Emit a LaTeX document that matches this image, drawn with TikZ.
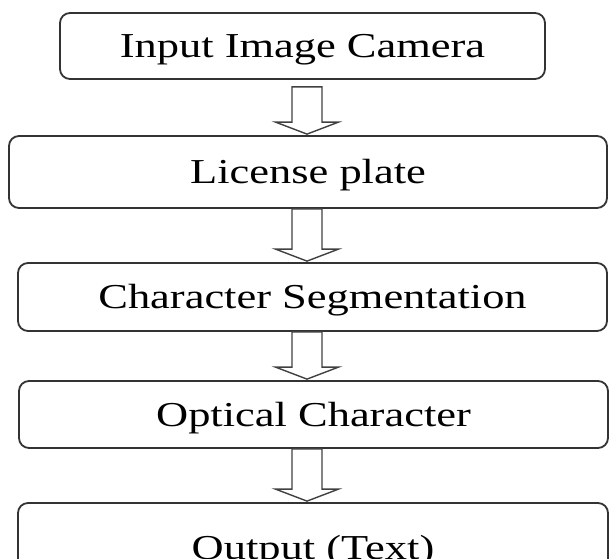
\documentclass[tikz,border=0pt]{standalone}
\usepackage{fontspec}
\setmainfont{Liberation Serif}
\usepackage{graphicx}
\usetikzlibrary{positioning,calc}

\tikzset{
  stage/.style={draw=black!80, line width=1.8pt, rounded corners=10pt, inner sep=0pt,
    text height=23pt, text depth=0pt, font=\fontsize{35}{40}\selectfont},
  hollow/.style={draw=black!75, line width=1.4pt},
}
\newcommand{\wide}[1]{\scalebox{1.27}[1]{#1}}
% hollow block arrow from the bottom of #2 to the top of #3
\newcommand{\flowarrow}[3][0]{%
  \draw[hollow] ($(#2.south -| axis)+(-15,#1)$) -- ($(#3.north -| axis)+(-15,-13)$)
    -- ++(-16.5,0) -- ($(#3.north -| axis)+(0,-1)$) -- ($(#3.north -| axis)+(31.5,-13)$)
    -- ++(-16.5,0) -- ($(#2.south -| axis)+(15,#1)$) -- cycle;}

\begin{document}
\begin{tikzpicture}[x=1pt, y=-1pt]
    \useasboundingbox (0,0) rectangle (610,558);
    \clip (0,0) rectangle (610,558);
    \coordinate (axis) at (307,0);
    \node[stage, minimum width=485pt, minimum height=66pt] (a) at (302.5,46) {\wide{Input Image Camera}};
    \node[stage, minimum width=598pt, minimum height=72pt] (b) at (308,172) {\wide{License plate}};
    \node[stage, minimum width=589pt, minimum height=68pt] (c) at (312.5,297) {\wide{Character Segmentation}};
    \node[stage, minimum width=589pt, minimum height=67pt] (d) at (313.5,414.5) {\wide{Optical Character}};
    \node[stage, minimum width=590pt, minimum height=89pt] (e) at (313,547.5) {\wide{Output (Text)}};
    \flowarrow[7]{a}{b}
    \flowarrow{b}{c}
    \flowarrow{c}{d}
    \flowarrow{d}{e}
\end{tikzpicture}
\end{document}
